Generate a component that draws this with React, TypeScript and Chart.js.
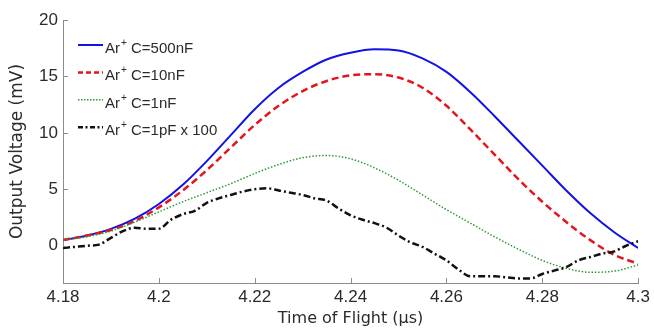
import React, { useEffect, useRef } from "react";
import { Chart, registerables } from "chart.js";

Chart.register(...registerables);

// Time of flight (µs)
const timeCoarse = [
  4.18, 4.185, 4.19, 4.195, 4.2, 4.205, 4.21, 4.215, 4.22, 4.225, 4.23, 4.235, 4.24,
  4.245, 4.25, 4.255, 4.26, 4.265, 4.27, 4.275, 4.28, 4.285, 4.29, 4.295, 4.3,
];
const timeFine = [
  4.18, 4.1825, 4.185, 4.1875, 4.19, 4.1925, 4.195, 4.1975, 4.2, 4.2025, 4.205, 4.2075,
  4.21, 4.2125, 4.215, 4.2175, 4.22, 4.2225, 4.225, 4.2275, 4.23, 4.2325, 4.235, 4.2375,
  4.24, 4.2425, 4.245, 4.2475, 4.25, 4.2525, 4.255, 4.2575, 4.26, 4.2625, 4.265, 4.2675,
  4.27, 4.2725, 4.275, 4.2775, 4.28, 4.2825, 4.285, 4.2875, 4.29, 4.2925, 4.295, 4.2975, 4.3,
];

// Output voltage (mV)
const v500nF = [
  0.5, 0.9, 1.5, 2.4, 3.7, 5.4, 7.5, 9.8, 12.1, 14.0, 15.4, 16.5, 17.1,
  17.4, 17.3, 16.6, 15.4, 13.6, 11.5, 9.3, 7.1, 4.9, 2.9, 1.2, -0.2,
];
const v10nF = [
  0.5, 0.9, 1.4, 2.2, 3.4, 4.9, 6.7, 8.7, 10.7, 12.4, 13.7, 14.6, 15.1,
  15.2, 14.9, 14.0, 12.4, 10.3, 8.1, 5.9, 3.9, 2.1, 0.5, -0.8, -1.6,
];
const v1nF = [
  0.5, 0.8, 1.3, 2.1, 3.0, 3.9, 4.7, 5.5, 6.4, 7.2, 7.8, 8.0, 7.7,
  6.9, 5.8, 4.5, 3.2, 2.0, 0.8, -0.3, -1.3, -2.0, -2.35, -2.25, -1.7,
];
const v1pFx100 = [
  -0.2, -0.1, 0.0, 0.1, 0.7, 1.3, 1.6, 1.5, 1.5, 2.3, 2.8, 3.1,
  3.8, 4.2, 4.5, 4.8, 5.0, 5.1, 4.9, 4.7, 4.5, 4.2, 4.0, 3.3,
  2.7, 2.3, 2.0, 1.6, 0.9, 0.3, -0.1, -0.7, -1.3, -2.1, -2.7, -2.7,
  -2.7, -2.8, -2.9, -2.9, -2.5, -2.2, -1.9, -1.3, -1.0, -0.7, -0.5, 0.0, 0.4,
];

const seriesLabels = ["Ar⁺ C=500nF", "Ar⁺ C=10nF", "Ar⁺ C=1nF", "Ar⁺ C=1pF x 100"];
const xTicks = [4.18, 4.2, 4.22, 4.24, 4.26, 4.28, 4.3];
const yTicks = [0, 5, 10, 15, 20];

const AXIS_COLOR = "#8c8c8c";
const TEXT_COLOR = "#2b2b2b";

const pts = (xs: number[], ys: number[]) => xs.map((x, i) => ({ x, y: ys[i] }));

const inwardTicks = {
  id: "inwardTicks",
  afterDatasetsDraw(chart: any) {
    const { ctx, chartArea, scales } = chart;
    ctx.save();
    ctx.strokeStyle = AXIS_COLOR;
    ctx.lineWidth = 1;
    scales.x.ticks.forEach((t: any) => {
      const px = Math.round(scales.x.getPixelForValue(t.value)) + 0.5;
      ctx.beginPath();
      ctx.moveTo(px, chartArea.bottom);
      ctx.lineTo(px, chartArea.bottom - 5);
      ctx.stroke();
    });
    scales.y.ticks.forEach((t: any) => {
      const py = Math.round(scales.y.getPixelForValue(t.value)) + 0.5;
      ctx.beginPath();
      ctx.moveTo(chartArea.left, py);
      ctx.lineTo(chartArea.left + 5, py);
      ctx.stroke();
    });
    ctx.restore();
  },
};

const insideLegend = {
  id: "insideLegend",
  afterDraw(chart: any) {
    const { ctx, chartArea } = chart;
    const x0 = chartArea.left + 15;
    const x1 = chartArea.left + 40;
    const textX = chartArea.left + 42;
    const y0 = chartArea.top + 25;
    const dy = 27.4;
    chart.data.datasets.forEach((ds: any, i: number) => {
      const y = y0 + i * dy;
      ctx.save();
      ctx.strokeStyle = ds.borderColor;
      ctx.lineWidth = ds.legendWidth;
      ctx.setLineDash(ds.legendDash);
      ctx.beginPath();
      ctx.moveTo(x0, y);
      ctx.lineTo(x1, y);
      ctx.stroke();
      ctx.setLineDash([]);
      const [a, b] = String(ds.label).split("⁺");
      ctx.fillStyle = TEXT_COLOR;
      ctx.textBaseline = "alphabetic";
      ctx.textAlign = "left";
      ctx.font = "15px 'Liberation Sans'";
      ctx.fillText(a, textX, y + 8);
      const wa = ctx.measureText(a).width;
      ctx.font = "10px 'Liberation Sans'";
      ctx.fillText("+", textX + wa + 1, y + 1);
      const wp = ctx.measureText("+").width;
      ctx.font = "15px 'Liberation Sans'";
      ctx.fillText(b, textX + wa + 1 + wp, y + 8);
      ctx.restore();
    });
  },
};

export default function App() {
  const ref = useRef<HTMLCanvasElement>(null);

  useEffect(() => {
    if (!ref.current) return;
    const chart = new Chart(ref.current, {
      type: "line",
      data: {
        datasets: [
          {
            label: seriesLabels[0],
            data: pts(timeCoarse, v500nF),
            borderColor: "#1212e6",
            borderWidth: 2,
            pointRadius: 0,
            cubicInterpolationMode: "monotone",
            order: 4,
            legendWidth: 2,
            legendDash: [],
          } as any,
          {
            label: seriesLabels[1],
            data: pts(timeCoarse, v10nF),
            borderColor: "#e3161e",
            borderWidth: 2.5,
            borderDash: [7, 4],
            pointRadius: 0,
            cubicInterpolationMode: "monotone",
            order: 3,
            legendWidth: 2.5,
            legendDash: [5, 3],
          } as any,
          {
            label: seriesLabels[2],
            data: pts(timeCoarse, v1nF),
            borderColor: "#2f9a34",
            borderWidth: 1.5,
            borderDash: [1.5, 1.8],
            pointRadius: 0,
            cubicInterpolationMode: "monotone",
            order: 2,
            legendWidth: 1.5,
            legendDash: [1.5, 1.5],
          } as any,
          {
            label: seriesLabels[3],
            data: pts(timeFine, v1pFx100),
            borderColor: "#111111",
            borderWidth: 2.5,
            borderDash: [7, 3, 2, 3],
            pointRadius: 0,
            cubicInterpolationMode: "monotone",
            order: 1,
            legendWidth: 2.5,
            legendDash: [5, 2.5, 2, 2.5],
          } as any,
        ],
      },
      options: {
        animation: false,
        responsive: false,
        devicePixelRatio: 1,
        layout: { padding: { left: 0, right: 12, top: 20, bottom: 0 } },
        plugins: {
          legend: { display: false },
          tooltip: { enabled: false },
        },
        scales: {
          x: {
            type: "linear",
            min: 4.18,
            max: 4.3,
            afterBuildTicks: (s: any) => {
              s.ticks = xTicks.map((v) => ({ value: v }));
            },
            afterFit: (s: any) => {
              s.height = 46;
            },
            ticks: {
              autoSkip: false,
              maxRotation: 0,
              padding: 4,
              color: TEXT_COLOR,
              font: { family: "'Liberation Sans'", size: 17 },
              callback: (v: any) => String(Number(Number(v).toFixed(2))),
            },
            grid: { drawOnChartArea: false, drawTicks: false },
            border: { color: AXIS_COLOR, width: 1 },
            title: {
              display: true,
              text: "Time of Flight (µs)",
              color: TEXT_COLOR,
              font: { family: "'DejaVu Sans'", size: 16 },
              padding: { top: 0, bottom: 1 },
            },
          },
          y: {
            type: "linear",
            min: -3.3,
            max: 20,
            afterBuildTicks: (s: any) => {
              s.ticks = yTicks.map((v) => ({ value: v }));
            },
            afterFit: (s: any) => {
              s.width = 63;
            },
            ticks: {
              padding: 5,
              color: TEXT_COLOR,
              font: { family: "'Liberation Sans'", size: 17 },
            },
            grid: { drawOnChartArea: false, drawTicks: false },
            border: { color: AXIS_COLOR, width: 1 },
            title: {
              display: true,
              text: "Output Voltage (mV)",
              color: TEXT_COLOR,
              font: { family: "'DejaVu Sans'", size: 17 },
              padding: { top: 7, bottom: 0 },
            },
          },
        },
      },
      plugins: [inwardTicks, insideLegend],
    });
    return () => chart.destroy();
  }, []);

  return (
    <div style={{ position: "fixed", left: 0, top: 0, width: 654, height: 329, background: "#fff" }}>
      <canvas ref={ref} width={654} height={329} />
    </div>
  );
}
